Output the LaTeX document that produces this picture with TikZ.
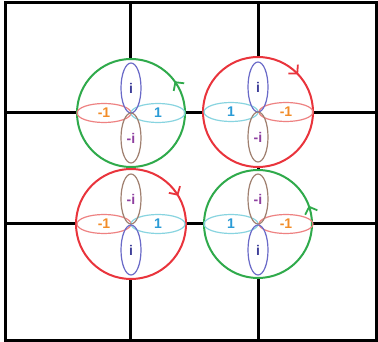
\documentclass[tikz,border=0pt]{standalone}
\usepackage{fontspec}
\setmainfont{Liberation Sans}
\usetikzlibrary{arrows.meta,shapes.geometric,decorations.markings}
\definecolor{loopgreen}{HTML}{2FAA4B}
\definecolor{loopred}{HTML}{E9343C}
\definecolor{iline}{HTML}{6A6AC8}
\definecolor{itext}{HTML}{3F3F99}
\definecolor{oneline}{HTML}{88D4E0}
\definecolor{onetext}{HTML}{2A9BD6}
\definecolor{moneline}{HTML}{EE8282}
\definecolor{monetext}{HTML}{F28C28}
\definecolor{miline}{HTML}{A08070}
\definecolor{mitext}{HTML}{8E3FA0}
\begin{document}
\begin{tikzpicture}[x=1pt,y=-1pt,
  wall/.style={line width=3pt},
  loopc/.style={line width=2pt,fill=white},
  lab/.style={ellipse,draw,line width=1.2pt,inner sep=0pt,font=\bfseries\fontsize{14}{16}\selectfont},
  hlab/.style={lab,minimum width=54pt,minimum height=19pt},
  vlab/.style={lab,minimum width=20pt,minimum height=50pt},
  ei/.style={vlab,draw=iline,text=itext},
  emi/.style={vlab,draw=miline,text=mitext},
  eone/.style={hlab,draw=oneline,text=onetext},
  emone/.style={hlab,draw=moneline,text=monetext},
  ccw/.style={postaction={decorate},decoration={markings,mark=at position #1 with {\arrow{Straight Barb[length=6pt,width=13pt,line width=1.8pt]}}}},
  cw/.style={postaction={decorate},decoration={markings,mark=at position #1 with {\arrowreversed{Straight Barb[length=6pt,width=13pt,line width=1.8pt]}}}}]
\useasboundingbox (0,0) rectangle (378,342);
% grid
\draw[wall] (5,3) rectangle (376,340);
\draw[wall] (130.5,3)--(130.5,340);
\draw[wall] (258.5,3)--(258.5,340);
\draw[wall] (5,113)--(376,113);
\draw[wall] (5,224)--(376,224);
% loops
\draw[loopc,draw=loopgreen,ccw=0.10] (131,113) circle[radius=54pt];
\draw[loopc,draw=loopred,cw=0.12] (258,112) circle[radius=55pt];
\draw[loopc,draw=loopred,cw=0.086] (131,224) circle[radius=55pt];
\draw[loopc,draw=loopgreen,ccw=0.055] (258,224) circle[radius=54pt];
% top left
\node[emone] (a1) at (104,113) {-1};
\node[eone] (a2) at (158,113) {1};
\node[ei] (a3) at (131,88) {i};
\node[emi] (a4) at (131,138) {-i};
% top right
\node[eone] (b1) at (231,112) {1};
\node[emone] (b2) at (286,112) {-1};
\node[ei] (b3) at (258,87) {i};
\node[emi] (b4) at (258,137) {-i};
% bottom left
\node[emone] (c1) at (104,224) {-1};
\node[eone] (c2) at (158,224) {1};
\node[emi] (c3) at (131,199) {-i};
\node[ei] (c4) at (131,250) {i};
% bottom right
\node[eone] (d1) at (231,224) {1};
\node[emone] (d2) at (286,224) {-1};
\node[emi] (d3) at (258,199) {-i};
\node[ei] (d4) at (258,250) {i};
\end{tikzpicture}
\end{document}
